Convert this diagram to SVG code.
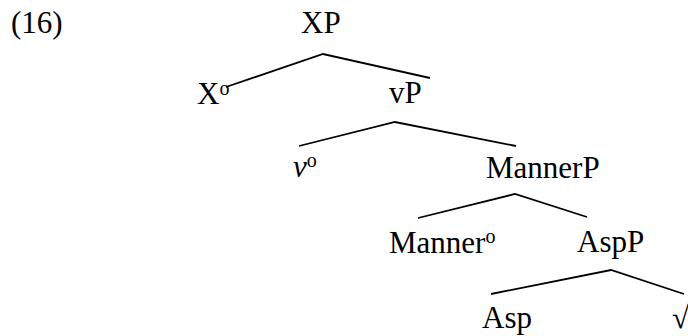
<svg xmlns="http://www.w3.org/2000/svg" width="688" height="336" viewBox="0 0 688 336">
  <style>
    .sup { font-size: 20px; }
    .it { font-style: italic; }
    .edge { stroke: #000; stroke-width: 1.8; fill: none; }
  </style>
  <rect width="688" height="336" fill="#fff"/>

  <g font-family="'Liberation Serif', 'Times New Roman', Times, serif" font-size="31" fill="#000">
    <text id="example-number" x="11" y="33">(16)</text>

    <g id="connectors">
      <polyline class="edge" points="226,87 323,54 430,78"/>
      <polyline class="edge" points="299,146 395,122 516,146"/>
      <polyline class="edge" points="418,218 515,194 587,217"/>
      <polyline class="edge" points="491,294 611,270 684,294"/>
    </g>

    <g id="node-XP"><text x="301" y="33">XP</text></g>
    <g id="node-X0"><text x="197" y="104">X<tspan class="sup" dy="-9">o</tspan></text></g>
    <g id="node-vP"><text x="389" y="103">vP</text></g>
    <g id="node-v0"><text x="293" y="177"><tspan class="it">v</tspan><tspan class="sup" dy="-10">o</tspan></text></g>
    <g id="node-MannerP"><text x="486" y="178">MannerP</text></g>
    <g id="node-Manner0"><text x="389" y="253">Manner<tspan class="sup" dy="-10">o</tspan></text></g>
    <g id="node-AspP"><text x="577" y="252">AspP</text></g>
    <g id="node-Asp"><text x="482" y="328">Asp</text></g>
    <g id="node-root"><text x="672" y="328">√</text></g>
  </g>
</svg>
